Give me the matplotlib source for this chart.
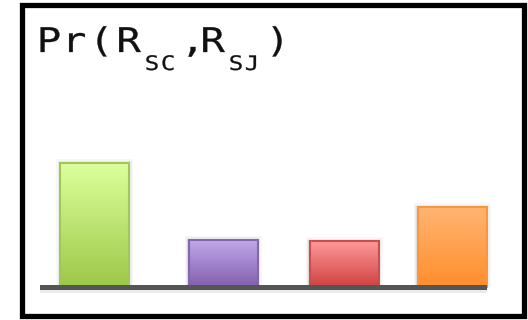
import numpy as np
import matplotlib.pyplot as plt
from matplotlib.colors import LinearSegmentedColormap
from matplotlib.patches import Rectangle, PathPatch
from matplotlib.textpath import TextPath
from matplotlib.font_manager import FontProperties
from matplotlib.transforms import Affine2D, IdentityTransform

# Data
labels = ['A', 'B', 'C', 'D']
values = [0.40, 0.152, 0.148, 0.258]
top_colors = ['#dcff9c', '#c2a8ea', '#ff9898', '#ffb472']
bottom_colors = ['#9cc848', '#8260ac', '#cf4242', '#ff8e2c']
edge_colors = ['#a0c858', '#8466ac', '#c65050', '#f59844']
xpos = [94.5, 223, 344, 452]
bar_w = 69

# title pieces: (char, x centre px, is subscript)
title_chars = [('P', 50, False), ('r', 77, False), ('(', 102, False), ('R', 130, False),
               ('S', 152, True), ('C', 168, True), (',', 192, False), ('R', 214, False),
               ('S', 236, True), ('J', 251, True), (')', 277, False)]

fig = plt.figure(figsize=(5.28, 3.2), dpi=100)
W, H = 528, 320

# axes: baseline at y=287px, top of 0.40 bar at y=163px
ax = fig.add_axes([40 / W, (H - 287) / H, (487 - 40) / W, 124 / H])
ax.axis('off')

px = 0.40 / 124
grad = np.linspace(1, 0, 100).reshape(-1, 1)
for x, v, ct, cb, ce in zip(xpos, values, top_colors, bottom_colors, edge_colors):
    # soft shadow
    for k, a in [(4, 0.03), (2.5, 0.04), (1.2, 0.06)]:
        ax.add_patch(Rectangle((x - bar_w / 2 - k, 0), bar_w + 2 * k, v + k * px,
                               facecolor='black', edgecolor='none', alpha=a,
                               clip_on=False, zorder=1))
    cmap = LinearSegmentedColormap.from_list('g', [cb, ct])
    ax.imshow(grad, cmap=cmap, extent=(x - bar_w / 2, x + bar_w / 2, 0, v),
              aspect='auto', zorder=2, clip_on=False, interpolation='bilinear')
    ax.add_patch(Rectangle((x - bar_w / 2, 0), bar_w, v, facecolor='none',
                           edgecolor=ce, linewidth=1.5, zorder=3, clip_on=False))
ax.set_xlim(40, 487)
ax.set_ylim(0, 0.40)

# baseline with shadow
ax.add_patch(Rectangle((40, -6 * px), 447, 5 * px, facecolor='black', alpha=0.08,
                       edgecolor='none', clip_on=False, zorder=3))
ax.add_patch(Rectangle((40, -3 * px), 447, 5 * px, facecolor='#555555',
                       edgecolor='none', clip_on=False, zorder=4))

# outer frame
fig.patches.append(Rectangle((21.5 / W, (H - 315.5) / H), 502 / W, 311 / H,
                             transform=fig.transFigure, facecolor='none',
                             edgecolor='black', linewidth=3.8))

# title: glyphs stretched a bit wider, drawn in pixel coords
fp = FontProperties(family='DejaVu Sans Mono')
for ch, cx, sub in title_chars:
    size, base = (20, 70) if sub else (34, 52)
    tp = TextPath((0, 0), ch, size=size, prop=fp)
    ext = tp.get_extents()
    mid = (ext.x0 + ext.x1) / 2
    tr = Affine2D().translate(-mid, 0).scale(1.2, 1).translate(cx, H - base)
    fig.add_artist(PathPatch(tr.transform_path(tp), facecolor='#111111',
                             edgecolor='#111111', linewidth=0.2,
                             transform=IdentityTransform()))

fig.savefig('out.png', dpi=100)
